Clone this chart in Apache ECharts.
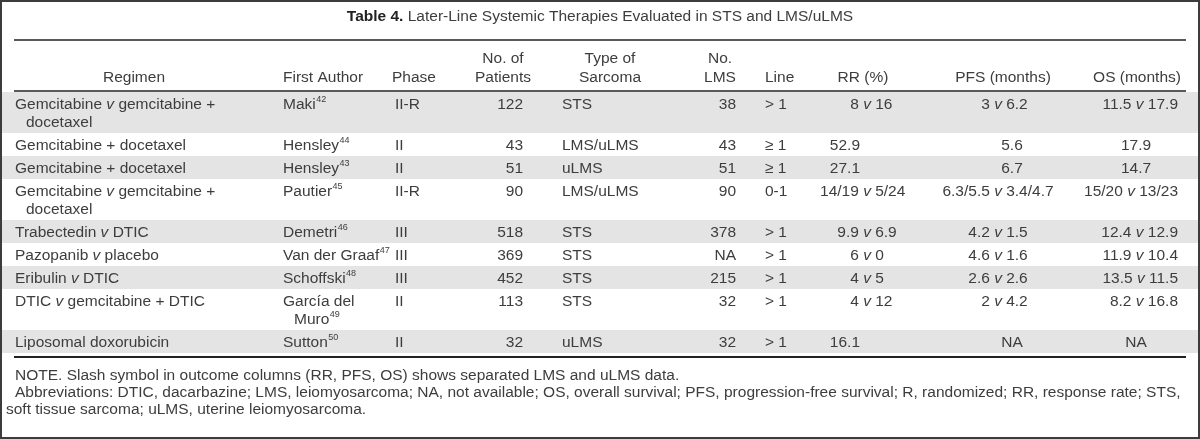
<!DOCTYPE html>
<html>
<head>
<meta charset="utf-8">
<script src="https://cdn.jsdelivr.net/npm/echarts@6/dist/echarts.min.js"></script>
<style>html,body{margin:0;padding:0;background:#fff}#c{width:1200px;height:439px}</style>
</head>
<body>
<div id="c"></div>
<script>
// ---------------- DATA ----------------
const titleBold = "Table 4.";
const titleText = "Later-Line Systemic Therapies Evaluated in STS and LMS/uLMS";
const headers = ["Regimen", "First Author", "Phase", "No. of\nPatients", "Type of\nSarcoma", "No.\nLMS", "Line", "RR (%)", "PFS (months)", "OS (months)"];
const regimens = ["Gemcitabine v gemcitabine +\ndocetaxel", "Gemcitabine + docetaxel", "Gemcitabine + docetaxel", "Gemcitabine v gemcitabine +\ndocetaxel", "Trabectedin v DTIC", "Pazopanib v placebo", "Eribulin v DTIC", "DTIC v gemcitabine + DTIC", "Liposomal doxorubicin"];
const authors = ["Maki", "Hensley", "Hensley", "Pautier", "Demetri", "Van der Graaf", "Schoffski", "García del\nMuro", "Sutton"];
const refs = ["42", "44", "43", "45", "46", "47", "48", "49", "50"];
const phases = ["II-R", "II", "II", "II-R", "III", "III", "III", "II", "II"];
const patients = ["122", "43", "51", "90", "518", "369", "452", "113", "32"];
const sarcomaTypes = ["STS", "LMS/uLMS", "uLMS", "LMS/uLMS", "STS", "STS", "STS", "STS", "uLMS"];
const lmsCounts = ["38", "43", "51", "90", "378", "NA", "215", "32", "32"];
const lineOfTherapy = ["> 1", "\u2265 1", "\u2265 1", "0-1", "> 1", "> 1", "> 1", "> 1", "> 1"];
const rrValues = ["8 v 16", "52.9", "27.1", "14/19 v 5/24", "9.9 v 6.9", "6 v 0", "4 v 5", "4 v 12", "16.1"];
const pfsValues = ["3 v 6.2", "5.6", "6.7", "6.3/5.5 v 3.4/4.7", "4.2 v 1.5", "4.6 v 1.6", "2.6 v 2.6", "2 v 4.2", "NA"];
const osValues = ["11.5 v 17.9", "17.9", "14.7", "15/20 v 13/23", "12.4 v 12.9", "11.9 v 10.4", "13.5 v 11.5", "8.2 v 16.8", "NA"];
const noteLines = [
  "NOTE. Slash symbol in outcome columns (RR, PFS, OS) shows separated LMS and uLMS data.",
  "Abbreviations: DTIC, dacarbazine; LMS, leiomyosarcoma; NA, not available; OS, overall survival; PFS, progression-free survival; R, randomized; RR, response rate; STS,",
  "soft tissue sarcoma; uLMS, uterine leiomyosarcoma."
];

// ---------------- LAYOUT / STYLE ----------------
const FONT = "Liberation Sans";
const FS = 15.5;
const SUP_FS = 9;
const COLOR = "#3d3d3d";
const SHADE = "#e4e4e4";
const RULE = "#222";
const LINE_H = 18;
const ROW_PAD = 5;
const TABLE_TOP = 92;
const TEXT_OFF = 1;
const RULE_TOP = 40, RULE_HEAD = 91, RULE_BOTTOM = 357;
const RULE_X1 = 14, RULE_X2 = 1186;
const TITLE_Y = 17;
const HEAD_Y = [58.5, 77.5];
const NOTE_Y = [376, 393, 410];
const NOTE_X = [15, 15, 6];
// per column: data anchor / alignment, header anchor / alignment
const COLS = [
  {x: 15, align: "left", indent: 11, hx: 134, halign: "center"},
  {x: 283, align: "left", indent: 11, hx: 283, halign: "left"},
  {x: 395, align: "left", hx: 392, halign: "left"},
  {x: 523, align: "right", hx: 503, halign: "center"},
  {x: 562, align: "left", hx: 610, halign: "center"},
  {x: 736, align: "right", hx: 720, halign: "center"},
  {x: 765, align: "left", hx: 765, halign: "left"},
  {x: 867, align: "v", plainAlign: "right", plainX: 860, hx: 863, halign: "center"},
  {x: 998, align: "v", plainAlign: "center", plainX: 1012, hx: 1003, halign: "center"},
  {x: 1178, align: "right", plainAlign: "center", plainX: 1136, hx: 1137, halign: "center"}
];

// ---------------- HELPERS ----------------
const mctx = document.createElement("canvas").getContext("2d");
function tw(s, size, weight, style) {
  mctx.font = (style || "normal") + " " + (weight || "normal") + " " + (size || FS) + "px \"" + FONT + "\"";
  return mctx.measureText(s).width;
}
const RICH = {
  i: {fontStyle: "italic", fontFamily: FONT, fontSize: FS, fill: COLOR}
};
function richV(s) { return s.replace(/ v /g, " {i|v} "); }

const rowLines = regimens.map((r, i) => Math.max(r.split("\n").length, authors[i].split("\n").length));
const rowTops = [];
(function () { let acc = TABLE_TOP; rowLines.forEach(n => { rowTops.push(acc); acc += n * LINE_H + ROW_PAD; }); })();

function textEl(p, text, align, opts) {
  opts = opts || {};
  return {
    type: "text", x: p[0], y: p[1], silent: true,
    style: {
      text: text, fill: COLOR, fontFamily: FONT, fontSize: opts.size || FS,
      fontWeight: opts.weight || "normal", fontStyle: opts.style || "normal",
      align: align, verticalAlign: "middle", rich: RICH
    }
  };
}

function renderRow(params, api) {
  const i = api.value(0);
  const top = rowTops[i];
  const h = rowLines[i] * LINE_H + ROW_PAD;
  const children = [];
  if (i % 2 === 0) {
    const a = api.coord([2, top]);
    const b = api.coord([1198, top + h]);
    children.push({type: "rect", shape: {x: a[0], y: a[1], width: b[0] - a[0], height: b[1] - a[1]}, style: {fill: SHADE}, silent: true});
  }
  const yLine = k => top + ROW_PAD / 2 + LINE_H / 2 + TEXT_OFF + k * LINE_H;
  // regimen
  regimens[i].split("\n").forEach((ln, k) => {
    children.push(textEl(api.coord([COLS[0].x + (k ? COLS[0].indent : 0), yLine(k)]), richV(ln), "left"));
  });
  // author + superscript reference
  const al = authors[i].split("\n");
  al.forEach((ln, k) => {
    const x = COLS[1].x + (k ? COLS[1].indent : 0);
    children.push(textEl(api.coord([x, yLine(k)]), ln, "left"));
    if (k === al.length - 1) {
      children.push(textEl(api.coord([x + tw(ln) + 0.5, yLine(k) - 5]), refs[i], "left", {size: SUP_FS}));
    }
  });
  const simple = [[2, phases], [3, patients], [4, sarcomaTypes], [5, lmsCounts], [6, lineOfTherapy]];
  simple.forEach(([c, arr]) => {
    children.push(textEl(api.coord([COLS[c].x, yLine(0)]), arr[i], COLS[c].align));
  });
  const outcome = [[7, rrValues], [8, pfsValues], [9, osValues]];
  outcome.forEach(([c, arr]) => {
    const s = arr[i], col = COLS[c];
    if (s.indexOf(" v ") < 0) {
      children.push(textEl(api.coord([col.plainX, yLine(0)]), s, col.plainAlign));
    } else if (col.align === "v") {
      const parts = s.split(" v ");
      const g = tw(" ") + tw("v", FS, "normal", "italic") / 2;
      children.push(textEl(api.coord([col.x - g, yLine(0)]), parts[0], "right"));
      children.push(textEl(api.coord([col.x, yLine(0)]), "v", "center", {style: "italic"}));
      children.push(textEl(api.coord([col.x + g, yLine(0)]), parts[1], "left"));
    } else {
      children.push(textEl(api.coord([col.x, yLine(0)]), richV(s), col.align));
    }
  });
  return {type: "group", children: children};
}

// ---------------- STATIC GRAPHICS (title, header, rules, notes) ----------------
const graphics = [];
graphics.push({type: "rect", shape: {x: 1, y: 1, width: 1198, height: 437}, style: {fill: null, stroke: "#3c3c3c", lineWidth: 2}, silent: true, z: 100});
const wBold = tw(titleBold + " ", FS, "bold");
const wRest = tw(titleText);
const tx0 = 600 - (wBold + wRest) / 2;
graphics.push({type: "text", x: tx0, y: TITLE_Y, style: {text: titleBold, fontFamily: FONT, fontSize: FS, fontWeight: "bold", fill: "#222", align: "left", verticalAlign: "middle"}});
graphics.push({type: "text", x: tx0 + wBold, y: TITLE_Y, style: {text: titleText, fontFamily: FONT, fontSize: FS, fill: COLOR, align: "left", verticalAlign: "middle"}});
[[RULE_TOP, 1.4], [RULE_HEAD, 1.4], [RULE_BOTTOM, 2.2]].forEach(([y, w]) => {
  graphics.push({type: "line", shape: {x1: RULE_X1, y1: y, x2: RULE_X2, y2: y}, style: {stroke: RULE, lineWidth: w}, silent: true});
});
headers.forEach((h, c) => {
  const ls = h.split("\n");
  ls.forEach((ln, k) => {
    const y = ls.length === 1 ? HEAD_Y[1] : HEAD_Y[k];
    graphics.push({type: "text", x: COLS[c].hx, y: y, style: {text: ln, fontFamily: FONT, fontSize: FS, fill: COLOR, align: COLS[c].halign, verticalAlign: "middle"}});
  });
});
noteLines.forEach((ln, k) => {
  graphics.push({type: "text", x: NOTE_X[k], y: NOTE_Y[k], style: {text: ln, fontFamily: FONT, fontSize: FS, fill: COLOR, align: "left", verticalAlign: "middle"}});
});

// ---------------- CHART ----------------
const chart = echarts.init(document.getElementById("c"), null, {renderer: "canvas"});
chart.setOption({
  animation: false,
  backgroundColor: "#fff",
  grid: {left: 0, right: 0, top: 0, bottom: 0},
  xAxis: {type: "value", min: 0, max: 1200, show: false},
  yAxis: {type: "value", min: 0, max: 439, inverse: true, show: false},
  graphic: graphics,
  series: [{
    type: "custom",
    coordinateSystem: "cartesian2d",
    renderItem: renderRow,
    data: regimens.map((_, i) => [i]),
    encode: {x: -1, y: -1},
    silent: true,
    clip: false
  }]
});
</script>
</body>
</html>
